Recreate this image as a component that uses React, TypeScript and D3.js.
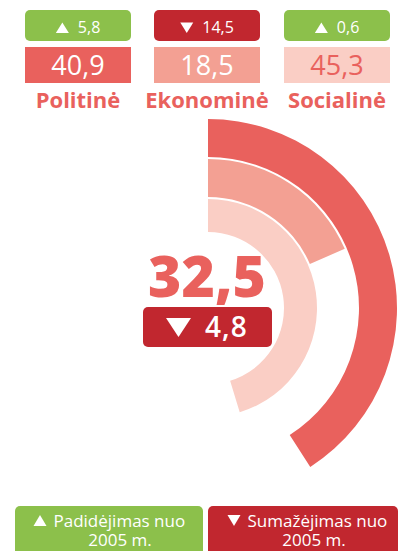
import React from "react";
import * as d3 from "d3";

const categories = ["Politinė", "Ekonominė", "Socialinė"];
const values = [40.9, 18.5, 45.3];
const changes = [5.8, -14.5, 0.6];
const totalValue = 32.5;
const totalChange = -4.8;
const legendLabels = ["Padidėjimas nuo", "Sumažėjimas nuo"];
const legendYear = "2005 m.";

const W = 405;
const H = 551;
const FONT = "'Open Sans', sans-serif";
const RED = "#E9615D";
const GREEN = "#8CC04B";
const DARK = "#C1272F";
const catColors = ["#E9615D", "#F3A093", "#FACEC5"];
const catText = ["#ffffff", "#ffffff", "#E9615D"];
const radii: [number, number][] = [
  [151, 189],
  [111, 149],
  [76, 109],
];

const fmt = (v: number) => d3.format(".1f")(Math.abs(v)).replace(".", ",");
const numWidth = (s: string, size: number) =>
  s.split("").reduce((a, ch) => a + (ch === "," ? 0.25 : 0.572), 0) * size;

const tri = (x: number, top: number, w: number, h: number, up: boolean) =>
  up
    ? `M${x},${top + h}L${x + w / 2},${top}L${x + w},${top + h}Z`
    : `M${x},${top}L${x + w},${top}L${x + w / 2},${top + h}Z`;

export default function App() {
  const angle = d3.scaleLinear().domain([0, 100]).range([0, 2 * Math.PI]);
  const cx = 208;
  const cy = 308;
  const boxX = [25, 154, 284];
  const boxW = 106;

  return (
    <svg width={W} height={H} style={{ position: "absolute", left: 0, top: 0 }} fontFamily={FONT}>
      {categories.map((c, i) => {
        const x = boxX[i];
        const up = changes[i] >= 0;
        const s = fmt(changes[i]);
        const tw = numWidth(s, 16);
        const gw = 13 + 9 + tw;
        const gx = x + boxW / 2 - gw / 2;
        return (
          <g key={c}>
            <rect x={x} y={10} width={boxW} height={31} rx={5} fill={up ? GREEN : DARK} />
            <path d={tri(gx, 22.5, 13, 10.5, up)} fill="#fff" />
            <text x={gx + 22} y={33} textAnchor="start" fill="#fff" fontSize={16}>
              {s}
            </text>
            <rect x={x} y={47} width={boxW} height={36} fill={catColors[i]} />
            <text x={x + boxW / 2} y={75} textAnchor="middle" fill={catText[i]} fontSize={27}>
              {fmt(values[i])}
            </text>
            <text x={x + boxW / 2} y={108} textAnchor="middle" fill={RED} fontSize={22} fontWeight="bold">
              {c}
            </text>
          </g>
        );
      })}
      <g transform={`translate(${cx},${cy})`}>
        {values.map((v, i) => {
          const path = d3
            .arc()
            .innerRadius(radii[i][0])
            .outerRadius(radii[i][1])
            .startAngle(0)
            .endAngle(angle(v))({} as any);
          return <path key={i} d={path || ""} fill={catColors[i]} />;
        })}
        <text x={-1} y={-11} textAnchor="middle" fill={RED} fontSize={57} fontWeight="800">
          {fmt(totalValue)}
        </text>
        <rect x={-65} y={-1} width={129} height={40} rx={5} fill={DARK} />
        <path d={tri(-42, 10, 25, 19, totalChange >= 0)} fill="#fff" />
        <text x={-3} y={29} textAnchor="start" fill="#fff" fontSize={28} fontWeight="600" letterSpacing={1}>
          {fmt(totalChange)}
        </text>
      </g>
      {legendLabels.map((l, i) => {
        const x = i === 0 ? 15 : 208;
        const w = i === 0 ? 188 : 190;
        const c = x + w / 2;
        const tx = c - 75.5;
        return (
          <g key={l}>
            <rect x={x} y={506} width={w} height={60} rx={5} fill={i === 0 ? GREEN : DARK} />
            <path d={tri(tx, 515, 13, 11, i === 0)} fill="#fff" />
            <text x={tx + 20} y={527} textAnchor="start" fill="#fff" fontSize={17}>
              {l}
            </text>
            <text x={c + 11} y={546} textAnchor="middle" fill="#fff" fontSize={17}>
              {legendYear}
            </text>
          </g>
        );
      })}
    </svg>
  );
}
